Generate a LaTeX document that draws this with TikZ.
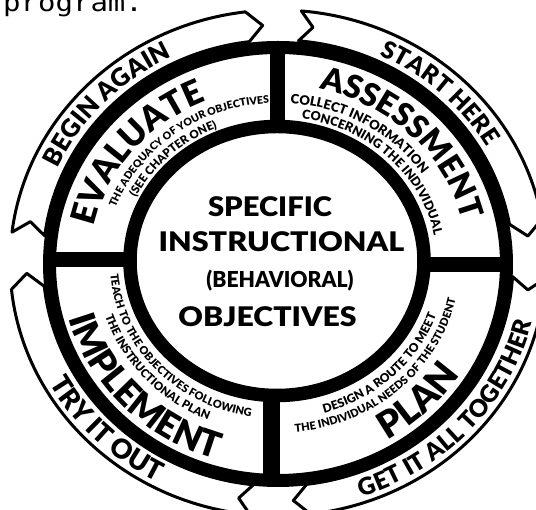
\documentclass[tikz,border=0pt]{standalone}
\usepackage{fontspec}
\setmainfont{DejaVu Sans}
\newfontfamily\hv{Lato}[UprightFont={* Black}]
\newfontfamily\monof{DejaVu Sans Mono}
\usetikzlibrary{decorations.text}
\newcommand\hvf[1]{\hv\fontsize{#1}{#1}\selectfont}
% ribbon: #1 tail angle, #2 head base angle (clockwise)
\newcommand\rbn[2]{%
  \draw[ribbonstyle] (#1:268 and 253) arc[start angle=#1, end angle=#2, x radius=268, y radius=253]
    -- ({#2-3.5}:251.5 and 238) -- (#2:235 and 223)
    arc[start angle=#2, end angle=#1, x radius=235, y radius=223]
    -- ({#1-3}:251.5 and 238) -- cycle;}
% clockwise text (tops outward): #1 centre angle, #2 rx, #3 ry, #4 size, #5 text
\newcommand\cwtext[5]{%
  \path[decorate,decoration={text along path, text align=center, text={|\hvf{#4}|#5}}]
    ({#1+50}:#2 and #3) arc[start angle={#1+50}, end angle={#1-50}, x radius=#2, y radius=#3];}
% counter-clockwise text (tops inward)
\newcommand\ccwtext[5]{%
  \path[decorate,decoration={text along path, text align=center, text={|\hvf{#4}|#5}}]
    ({#1-50}:#2 and #3) arc[start angle={#1-50}, end angle={#1+50}, x radius=#2, y radius=#3];}
\begin{document}
\begin{tikzpicture}[x=1pt,y=1pt,
  ribbonstyle/.style={draw=black, fill=white, line width=3pt, line join=round},
  ringline/.style={draw=black, line width=13pt},
  divider/.style={draw=black, line width=15pt},
  ctext/.style={font=\hvf{27}, inner sep=0pt}]
\useasboundingbox (0,0) rectangle (536,510);
\clip (0,0) rectangle (536,510);
\node[anchor=base west, inner sep=0pt, font=\monof\fontsize{25}{25}\selectfont, xscale=1.16] (prog) at (3,498) {program.};
\begin{scope}[shift={(278,247)}]
  % ribbons
  \rbn{173}{97}
  \rbn{85}{10}
  \rbn{-3.5}{-83}
  \rbn{-96}{-174}
  % rings
  \draw[ringline] (0,-1) ellipse[x radius=228.5, y radius=216.5];
  \draw[ringline, line width=13.5pt] (-1,2) ellipse[x radius=147, y radius=134.5];
  % dividers
  \draw[divider] (-0.5,130) -- (-0.5,218);
  \draw[divider] (145,-1.5) -- (225,-1.5);
  \draw[divider, line width=17pt] (-6.5,-130) -- (-6.5,-218);
  \draw[divider] (-145,3.5) -- (-225,3.5);
  % ribbon texts
  \cwtext{136.5}{242}{229}{25}{BEGIN AGAIN}
  \cwtext{47}{242}{229}{24}{START HERE}
  \ccwtext{-42}{262}{247}{24}{GET IT ALL TOGETHER}
  \ccwtext{225}{262}{247}{27}{TRY IT OUT}
  % band words
  \cwtext{141}{188}{175}{34}{EVALUATE}
  \cwtext{45}{190}{178}{32}{ASSESSMENT}
  \ccwtext{-45.5}{217}{205}{37}{PLAN}
  \ccwtext{224}{217}{205}{36}{IMPLEMENT}
  % sub lines
  \cwtext{127}{173}{160}{10.5}{THE ADEQUACY OF YOUR OBJECTIVES}
  \cwtext{134}{159}{146}{11.5}{(SEE CHAPTER ONE)}
  \cwtext{59}{173}{160}{13}{COLLECT INFORMATION}
  \cwtext{45.5}{159}{146}{12.5}{CONCERNING THE INDIVIDUAL}
  \ccwtext{-48}{182}{170}{11}{THE INDIVIDUAL NEEDS OF THE STUDENT}
  \ccwtext{-46}{168}{156}{12}{DESIGN A ROUTE TO MEET}
  \ccwtext{222}{182}{170}{11.5}{THE INSTRUCTIONAL PLAN}
  \ccwtext{222}{168}{156}{11}{TEACH TO THE OBJECTIVES FOLLOWING}
\end{scope}
\node[ctext, xscale=1.08] (spec) at (270,303) {SPECIFIC};
\node[ctext, xscale=1.13] (instr) at (281.5,268) {INSTRUCTIONAL};
\node[ctext, font=\hvf{22}, xscale=0.96] (behav) at (280,229) {(BEHAVIORAL)};
\node[ctext, xscale=1.12] (obj) at (267.5,193) {OBJECTIVES};
\end{tikzpicture}
\end{document}
